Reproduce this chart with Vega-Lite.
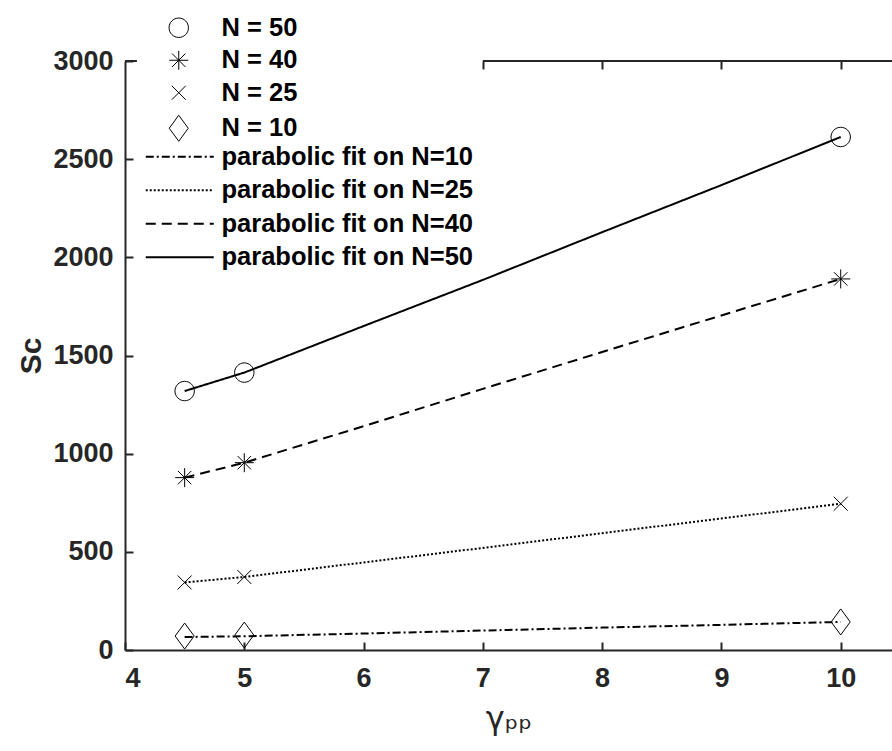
{
  "$schema": "https://vega.github.io/schema/vega-lite/v6.json",
  "width": 767,
  "height": 589,
  "autosize": {"type": "none"},
  "padding": {"left": 125, "top": 61, "right": 0, "bottom": 101},
  "background": "white",
  "config": {
    "view": {"stroke": null},
    "font": "Liberation Sans",
    "axis": {
      "domainColor": "#262626",
      "domainWidth": 2,
      "tickColor": "#262626",
      "tickWidth": 2,
      "tickSize": -8,
      "labelFont": "Liberation Sans",
      "labelFontSize": 27,
      "labelFontWeight": "bold",
      "labelColor": "#262626",
      "titleColor": "#262626",
      "grid": false
    },
    "legend": {
      "labelFont": "Liberation Sans",
      "labelFontSize": 25.5,
      "labelFontWeight": "bold",
      "labelColor": "#000000",
      "padding": 0,
      "rowPadding": 5.5,
      "symbolSize": 400,
      "labelLimit": 400
    }
  },
  "datasets": {
    "fits": [
      {"gamma": 4.5, "Sc": 66, "fit": "parabolic fit on N=10"},
      {"gamma": 5, "Sc": 70, "fit": "parabolic fit on N=10"},
      {"gamma": 6, "Sc": 84, "fit": "parabolic fit on N=10"},
      {"gamma": 7, "Sc": 99, "fit": "parabolic fit on N=10"},
      {"gamma": 8, "Sc": 114, "fit": "parabolic fit on N=10"},
      {"gamma": 9, "Sc": 128, "fit": "parabolic fit on N=10"},
      {"gamma": 10, "Sc": 143, "fit": "parabolic fit on N=10"},
      {"gamma": 4.5, "Sc": 344, "fit": "parabolic fit on N=25"},
      {"gamma": 5, "Sc": 372, "fit": "parabolic fit on N=25"},
      {"gamma": 6, "Sc": 446, "fit": "parabolic fit on N=25"},
      {"gamma": 7, "Sc": 520, "fit": "parabolic fit on N=25"},
      {"gamma": 8, "Sc": 595, "fit": "parabolic fit on N=25"},
      {"gamma": 9, "Sc": 670, "fit": "parabolic fit on N=25"},
      {"gamma": 10, "Sc": 745, "fit": "parabolic fit on N=25"},
      {"gamma": 4.5, "Sc": 878, "fit": "parabolic fit on N=40"},
      {"gamma": 5, "Sc": 954, "fit": "parabolic fit on N=40"},
      {"gamma": 6, "Sc": 1140, "fit": "parabolic fit on N=40"},
      {"gamma": 7, "Sc": 1330, "fit": "parabolic fit on N=40"},
      {"gamma": 8, "Sc": 1518, "fit": "parabolic fit on N=40"},
      {"gamma": 9, "Sc": 1704, "fit": "parabolic fit on N=40"},
      {"gamma": 10, "Sc": 1890, "fit": "parabolic fit on N=40"},
      {"gamma": 4.5, "Sc": 1319, "fit": "parabolic fit on N=50"},
      {"gamma": 5, "Sc": 1413, "fit": "parabolic fit on N=50"},
      {"gamma": 6, "Sc": 1650, "fit": "parabolic fit on N=50"},
      {"gamma": 7, "Sc": 1885, "fit": "parabolic fit on N=50"},
      {"gamma": 8, "Sc": 2128, "fit": "parabolic fit on N=50"},
      {"gamma": 9, "Sc": 2368, "fit": "parabolic fit on N=50"},
      {"gamma": 10, "Sc": 2613, "fit": "parabolic fit on N=50"}
    ],
    "points": [
      {"gamma": 4.5, "Sc": 1319, "series": "N = 50"},
      {"gamma": 5, "Sc": 1413, "series": "N = 50"},
      {"gamma": 10, "Sc": 2613, "series": "N = 50"},
      {"gamma": 4.5, "Sc": 878, "series": "N = 40"},
      {"gamma": 5, "Sc": 954, "series": "N = 40"},
      {"gamma": 10, "Sc": 1890, "series": "N = 40"},
      {"gamma": 4.5, "Sc": 344, "series": "N = 25"},
      {"gamma": 5, "Sc": 372, "series": "N = 25"},
      {"gamma": 10, "Sc": 745, "series": "N = 25"},
      {"gamma": 4.5, "Sc": 71, "series": "N = 10"},
      {"gamma": 5, "Sc": 76, "series": "N = 10"},
      {"gamma": 10, "Sc": 143, "series": "N = 10"}
    ]
  },
  "resolve": {"axis": {"x": "independent", "y": "independent"}},
  "layer": [
    {
      "data": {"name": "fits"},
      "mark": {"type": "line", "stroke": "#000000", "strokeWidth": 2},
      "encoding": {
        "x": {
          "field": "gamma", "type": "quantitative",
          "scale": {"domain": [4, 10.43], "nice": false, "zero": false},
          "axis": {
            "orient": "bottom", "values": [4, 5, 6, 7, 8, 9, 10],
            "labelPadding": 23,
            "title": "γₚₚ", "titleFont": "DejaVu Sans", "titleFontSize": 32,
            "titleFontWeight": "normal", "titlePadding": 12
          }
        },
        "y": {
          "field": "Sc", "type": "quantitative",
          "scale": {"domain": [0, 3000], "nice": false},
          "axis": {
            "orient": "left", "values": [0, 500, 1000, 1500, 2000, 2500, 3000],
            "format": "d",
            "labelPadding": 20,
            "title": "Sc", "titleFontSize": 30, "titleFontWeight": "bold",
            "titlePadding": 6
          }
        },
        "strokeDash": {
          "field": "fit", "type": "nominal",
          "scale": {
            "domain": ["parabolic fit on N=10", "parabolic fit on N=25", "parabolic fit on N=40", "parabolic fit on N=50"],
            "range": [[8, 3, 2, 3], [2, 2], [10, 6], [1, 0]]
          },
          "legend": {
            "orient": "none", "legendX": 42, "legendY": 83, "title": null,
            "rowPadding": 6.5,
            "symbolType": "M-3.4,0L3.4,0",
            "symbolStrokeColor": "#000000", "symbolStrokeWidth": 2,
            "labelOffset": 29
          }
        }
      }
    },
    {
      "data": {"name": "points"},
      "mark": {"type": "point", "filled": false, "stroke": "#000000", "strokeWidth": 1, "size": 400, "opacity": 1},
      "encoding": {
        "x": {"field": "gamma", "type": "quantitative", "axis": null},
        "y": {"field": "Sc", "type": "quantitative", "axis": null},
        "shape": {
          "field": "series", "type": "nominal",
          "scale": {
            "domain": ["N = 50", "N = 40", "N = 25", "N = 10"],
            "range": [
              "M0.97,0A0.97,0.97,0,1,1,-0.97,0A0.97,0.97,0,1,1,0.97,0Z",
              "M0,-0.95L0,0.95M-0.95,0L0.95,0M-0.67,-0.67L0.67,0.67M-0.67,0.67L0.67,-0.67",
              "M-0.7,-0.7L0.7,0.7M-0.7,0.7L0.7,-0.7",
              "M0,-1.3L0.95,0L0,1.3L-0.95,0Z"
            ]
          },
          "legend": {
            "orient": "none", "legendX": 41, "legendY": -46, "title": null,
            "symbolStrokeColor": "#000000", "symbolStrokeWidth": 1,
            "symbolFillColor": "transparent",
            "labelOffset": 30
          }
        }
      }
    },
    {
      "data": {"values": [{}]},
      "mark": {"type": "rule", "stroke": "#262626", "strokeWidth": 2},
      "encoding": {
        "x": {
          "datum": 7, "type": "quantitative",
          "axis": {
            "orient": "top", "values": [7, 8, 9, 10], "labels": false,
            "domain": false, "title": null
          }
        },
        "x2": {"datum": 10.43},
        "y": {"datum": 3000, "type": "quantitative", "axis": null}
      }
    },
    {
      "data": {"values": [{}]},
      "mark": {"type": "rule", "stroke": "#262626", "strokeWidth": 2},
      "encoding": {
        "x": {"datum": 4, "type": "quantitative", "axis": null},
        "x2": {"datum": 4.1},
        "y": {"datum": 3000, "type": "quantitative", "axis": null}
      }
    }
  ]
}
